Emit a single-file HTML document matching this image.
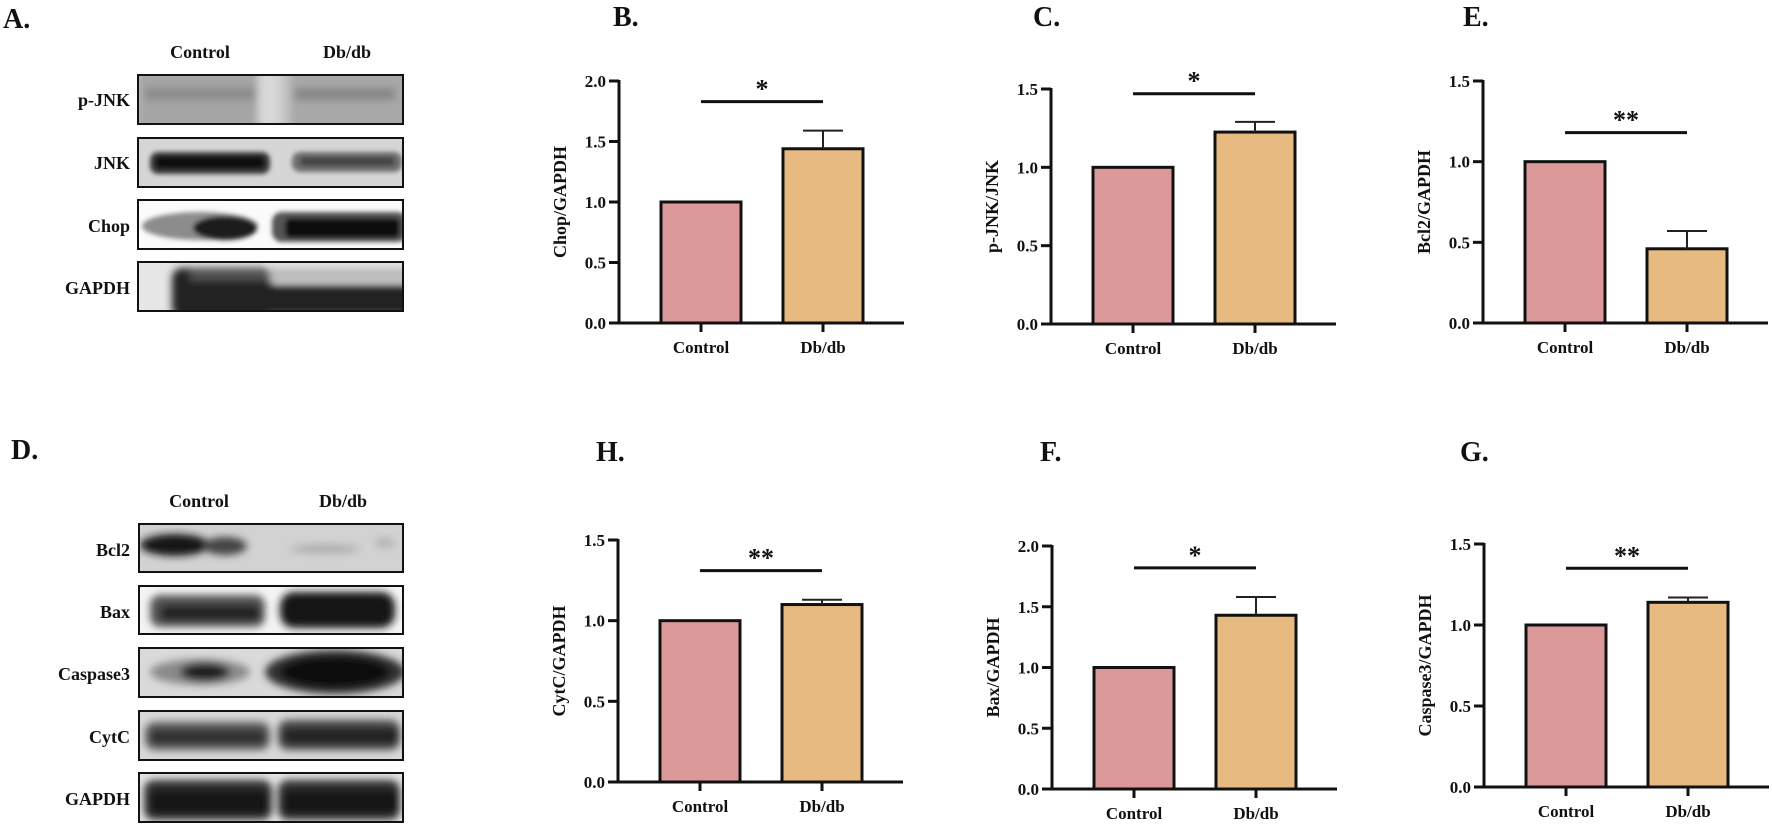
<!DOCTYPE html>
<html><head><meta charset="utf-8">
<style>
html,body{margin:0;padding:0;background:#fff;}
body{width:1772px;height:825px;overflow:hidden;position:relative;font-family:"Liberation Serif",serif;}
svg text{font-family:"Liberation Serif",serif;font-weight:bold;fill:#111;}
</style></head>
<body>
<svg id="fig" width="1772" height="825" viewBox="0 0 1772 825" xmlns="http://www.w3.org/2000/svg">
<defs>
<filter id="b3" x="-20%" y="-50%" width="140%" height="200%"><feGaussianBlur stdDeviation="4"/></filter>
<filter id="b2" x="-20%" y="-50%" width="140%" height="200%"><feGaussianBlur stdDeviation="2.5"/></filter>
<clipPath id="c1"><rect x="138" y="75" width="265" height="49"/></clipPath>
<clipPath id="c2"><rect x="138" y="138" width="265" height="49"/></clipPath>
<clipPath id="c3"><rect x="138" y="200" width="265" height="49"/></clipPath>
<clipPath id="c4"><rect x="138" y="262" width="265" height="49"/></clipPath>
<clipPath id="d1"><rect x="139" y="524" width="264" height="48"/></clipPath>
<clipPath id="d2"><rect x="139" y="586" width="264" height="48"/></clipPath>
<clipPath id="d3"><rect x="139" y="648" width="264" height="49"/></clipPath>
<clipPath id="d4"><rect x="139" y="711" width="264" height="49"/></clipPath>
<clipPath id="d5"><rect x="139" y="773" width="264" height="49"/></clipPath>
</defs>

<!-- Panel A -->
<text x="3" y="28" font-size="28">A.</text>
<text x="200" y="58" font-size="18" text-anchor="middle">Control</text>
<text x="347" y="58" font-size="18" text-anchor="middle">Db/db</text>

<g>
<rect x="138" y="75" width="265" height="49" fill="#c4c4c4"/>
<g clip-path="url(#c1)" filter="url(#b3)">
<rect x="138" y="70" width="120" height="60" fill="#a5a5a5"/>
<rect x="258" y="70" width="22" height="60" fill="#d8d8d8"/>
<rect x="290" y="70" width="120" height="60" fill="#a8a8a8"/>
<rect x="145" y="88" width="110" height="12" fill="#8a8a8a"/>
<rect x="295" y="88" width="100" height="12" fill="#858585"/>
</g>
<rect x="138" y="75" width="265" height="49" fill="none" stroke="#111" stroke-width="2"/>
</g>
<text x="130" y="106" font-size="18" text-anchor="end">p-JNK</text>

<g>
<rect x="138" y="138" width="265" height="49" fill="#d6d6d6"/>
<g clip-path="url(#c2)" filter="url(#b2)">
<rect x="150" y="152" width="120" height="22" rx="8" fill="#3a3a3a"/>
<rect x="155" y="156" width="110" height="13" rx="5" fill="#111"/>
<rect x="292" y="152" width="110" height="20" rx="8" fill="#6e6e6e"/>
<rect x="300" y="157" width="95" height="9" rx="4" fill="#454545"/>
</g>
<rect x="138" y="138" width="265" height="49" fill="none" stroke="#111" stroke-width="2"/>
</g>
<text x="130" y="169" font-size="18" text-anchor="end">JNK</text>

<g>
<rect x="138" y="200" width="265" height="49" fill="#fbfbfb"/>
<g clip-path="url(#c3)" filter="url(#b2)">
<ellipse cx="200" cy="226" rx="58" ry="14" fill="#8c8c8c"/>
<ellipse cx="225" cy="228" rx="32" ry="12" fill="#1a1a1a"/>
<rect x="272" y="212" width="135" height="30" rx="10" fill="#555"/>
<rect x="285" y="218" width="115" height="20" rx="6" fill="#111"/>
</g>
<rect x="138" y="200" width="265" height="49" fill="none" stroke="#111" stroke-width="2"/>
</g>
<text x="130" y="232" font-size="18" text-anchor="end">Chop</text>

<g>
<rect x="138" y="262" width="265" height="49" fill="#e6e6e6"/>
<g clip-path="url(#c4)" filter="url(#b3)">
<rect x="172" y="268" width="100" height="50" rx="10" fill="#222"/>
<rect x="190" y="270" width="80" height="10" fill="#555"/>
<rect x="262" y="285" width="150" height="30" fill="#222"/>
<rect x="270" y="268" width="140" height="14" fill="#bbb"/>
</g>
<rect x="138" y="262" width="265" height="49" fill="none" stroke="#111" stroke-width="2"/>
</g>
<text x="130" y="294" font-size="18" text-anchor="end">GAPDH</text>

<!-- Panel D -->
<text x="11" y="459" font-size="28">D.</text>
<text x="199" y="507" font-size="18" text-anchor="middle">Control</text>
<text x="343" y="507" font-size="18" text-anchor="middle">Db/db</text>

<g>
<rect x="139" y="524" width="264" height="48" fill="#d2d2d2"/>
<g clip-path="url(#d1)" filter="url(#b3)">
<ellipse cx="175" cy="545" rx="35" ry="11" fill="#151515"/>
<ellipse cx="225" cy="546" rx="22" ry="9" fill="#444"/>
<ellipse cx="325" cy="549" rx="35" ry="5" fill="#b0b0b0"/>
<ellipse cx="385" cy="543" rx="10" ry="5" fill="#b4b4b4"/>
</g>
<rect x="139" y="524" width="264" height="48" fill="none" stroke="#111" stroke-width="2"/>
</g>
<text x="130" y="556" font-size="18" text-anchor="end">Bcl2</text>

<g>
<rect x="139" y="586" width="264" height="48" fill="#f4f4f4"/>
<g clip-path="url(#d2)" filter="url(#b3)">
<rect x="150" y="595" width="115" height="32" rx="10" fill="#555"/>
<rect x="160" y="605" width="100" height="16" rx="6" fill="#222"/>
<rect x="280" y="592" width="115" height="36" rx="14" fill="#151515"/>
</g>
<rect x="139" y="586" width="264" height="48" fill="none" stroke="#111" stroke-width="2"/>
</g>
<text x="130" y="618" font-size="18" text-anchor="end">Bax</text>

<g>
<rect x="139" y="648" width="264" height="49" fill="#dadada"/>
<g clip-path="url(#d3)" filter="url(#b3)">
<ellipse cx="200" cy="672" rx="50" ry="13" fill="#8a8a8a"/>
<ellipse cx="205" cy="672" rx="25" ry="9" fill="#1a1a1a"/>
<ellipse cx="335" cy="672" rx="70" ry="22" fill="#333"/>
<ellipse cx="335" cy="672" rx="55" ry="16" fill="#0e0e0e"/>
</g>
<rect x="139" y="648" width="264" height="49" fill="none" stroke="#111" stroke-width="2"/>
</g>
<text x="130" y="680" font-size="18" text-anchor="end">Caspase3</text>

<g>
<rect x="139" y="711" width="264" height="49" fill="#d8d8d8"/>
<g clip-path="url(#d4)" filter="url(#b3)">
<rect x="145" y="722" width="125" height="28" rx="10" fill="#5a5a5a"/>
<rect x="150" y="730" width="115" height="14" rx="6" fill="#2e2e2e"/>
<rect x="278" y="720" width="122" height="30" rx="10" fill="#4a4a4a"/>
<rect x="283" y="728" width="115" height="16" rx="6" fill="#222"/>
</g>
<rect x="139" y="711" width="264" height="49" fill="none" stroke="#111" stroke-width="2"/>
</g>
<text x="130" y="743" font-size="18" text-anchor="end">CytC</text>

<g>
<rect x="139" y="773" width="264" height="49" fill="#e4e4e4"/>
<g clip-path="url(#d5)" filter="url(#b3)">
<rect x="144" y="780" width="128" height="40" rx="10" fill="#333"/>
<rect x="150" y="790" width="118" height="24" rx="6" fill="#181818"/>
<rect x="278" y="780" width="122" height="40" rx="10" fill="#333"/>
<rect x="283" y="790" width="115" height="24" rx="6" fill="#181818"/>
</g>
<rect x="139" y="773" width="264" height="49" fill="none" stroke="#111" stroke-width="2"/>
</g>
<text x="130" y="805" font-size="18" text-anchor="end">GAPDH</text>

<g id="charts"></g>
</svg>

<script>
// ---- data ----
const categories = ["Control", "Db/db"];
const ticks2 = [0, 0.5, 1.0, 1.5, 2.0];
const ticks15 = [0, 0.5, 1.0, 1.5];
const chopMeans = [1.0, 1.44];
const chopErrors = [0, 0.15];
const pjnkMeans = [1.0, 1.225];
const pjnkErrors = [0, 0.065];
const bcl2Means = [1.0, 0.46];
const bcl2Errors = [0, 0.11];
const cytcMeans = [1.0, 1.10];
const cytcErrors = [0, 0.03];
const baxMeans = [1.0, 1.43];
const baxErrors = [0, 0.15];
const casp3Means = [1.0, 1.14];
const casp3Errors = [0, 0.03];
const sigLabels = ["*", "*", "**", "**", "*", "**"];
const sigLevels = [1.83, 1.47, 1.18, 1.31, 1.82, 1.35];

const NS = "http://www.w3.org/2000/svg";
const root = document.getElementById("charts");
function mk(tag, attrs, parent) {
  const e = document.createElementNS(NS, tag);
  for (const k in attrs) e.setAttribute(k, attrs[k]);
  (parent || root).appendChild(e);
  return e;
}
const fills = ["#dc999a", "#e6ba80"];

function chart(id, letter, title, means, errs, ticks, sigIdx, ax, yTop, y0, labelX, labelY) {
  const g = mk("g", {});
  
  
  const yMax = ticks[ticks.length - 1];
  const ys = v => y0 - (v / yMax) * (y0 - yTop);
  const barW = 80;
  const xc = i => ax + 82 + i * 122;
  // panel letter
  const pl = mk("text", {x: labelX, y: labelY, "font-size": 28}, g);
  pl.textContent = letter + ".";
  
  
  // bars
  means.forEach((m, i) => {
    const r = mk("rect", {x: xc(i) - barW / 2, y: ys(m), width: barW, height: y0 - ys(m), fill: fills[i], stroke: "#111", "stroke-width": 3}, g);
    
    
    if (errs[i] > 0) {
      const eg = mk("g", {stroke: "#222", "stroke-width": 2}, g);
      
      
      mk("line", {x1: xc(i), x2: xc(i), y1: ys(m), y2: ys(m + errs[i])}, eg);
      mk("line", {x1: xc(i) - 20, x2: xc(i) + 20, y1: ys(m + errs[i]), y2: ys(m + errs[i])}, eg);
    }
  });
  // y axis
  const ya = mk("g", {}, g);
  
  
  mk("line", {x1: ax, x2: ax, y1: yTop - 1, y2: y0 + 1.5, stroke: "#111", "stroke-width": 3}, ya);
  ticks.forEach(t => {
    mk("line", {x1: ax - 10, x2: ax, y1: ys(t), y2: ys(t), stroke: "#111", "stroke-width": 3}, ya);
    const tl = mk("text", {x: ax - 13, y: ys(t) + 6, "font-size": 17, "text-anchor": "end"}, ya);
    tl.textContent = t.toFixed(1);
    
    
  });
  const yt = mk("text", {x: 0, y: 0, "font-size": 18, "text-anchor": "middle", transform: "translate(" + (ax - 53) + "," + ((yTop + y0) / 2) + ") rotate(-90)"}, g);
  yt.textContent = title;
  
  
  // x axis
  const xa = mk("g", {}, g);
  
  
  mk("line", {x1: ax - 10, x2: ax + 285, y1: y0, y2: y0, stroke: "#111", "stroke-width": 3}, xa);
  categories.forEach((c, i) => {
    mk("line", {x1: xc(i), x2: xc(i), y1: y0, y2: y0 + 9, stroke: "#111", "stroke-width": 3}, xa);
    const xl = mk("text", {x: xc(i), y: y0 + 30, "font-size": 17, "text-anchor": "middle"}, xa);
    xl.textContent = c;
    
    
  });
  // significance
  const sg = mk("g", {}, g);
  
  
  const sy = ys(sigLevels[sigIdx]);
  mk("line", {x1: xc(0), x2: xc(1), y1: sy, y2: sy, stroke: "#111", "stroke-width": 3}, sg);
  const st = mk("text", {x: (xc(0) + xc(1)) / 2, y: sy - 4, "font-size": 26, "text-anchor": "middle"}, sg);
  st.textContent = sigLabels[sigIdx];
}

chart("b", "B", "Chop/GAPDH", chopMeans, chopErrors, ticks2, 0, 619, 81, 323, 613, 26);
chart("c", "C", "p-JNK/JNK", pjnkMeans, pjnkErrors, ticks15, 1, 1051, 89, 324, 1033, 26);
chart("e", "E", "Bcl2/GAPDH", bcl2Means, bcl2Errors, ticks15, 2, 1483, 81, 323, 1463, 26);
chart("h", "H", "CytC/GAPDH", cytcMeans, cytcErrors, ticks15, 3, 618, 540, 782, 596, 461);
chart("f", "F", "Bax/GAPDH", baxMeans, baxErrors, ticks2, 4, 1052, 546, 789, 1040, 461);
chart("g", "G", "Caspase3/GAPDH", casp3Means, casp3Errors, ticks15, 5, 1484, 544, 787, 1460, 461);
</script>
</body></html>
